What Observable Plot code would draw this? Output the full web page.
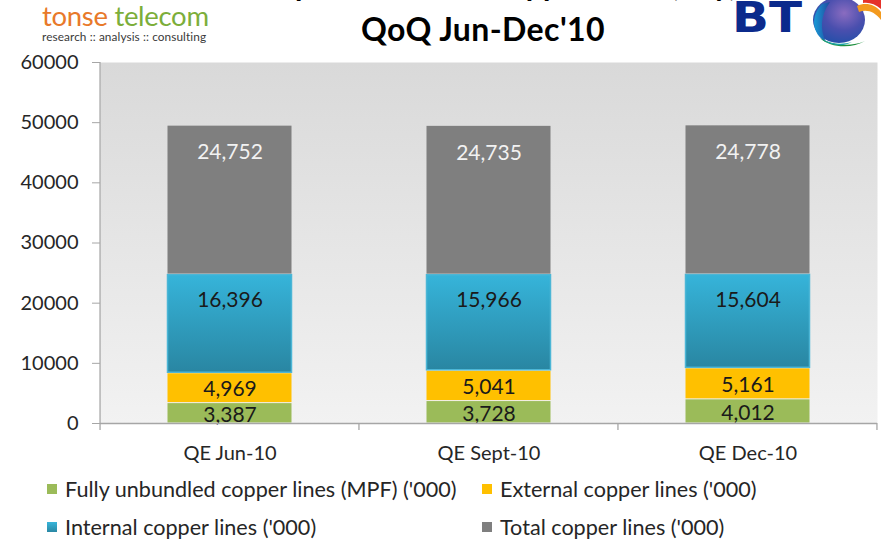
<!DOCTYPE html>
<html>
<head>
<meta charset="utf-8">
<script src="https://cdn.jsdelivr.net/npm/d3@7"></script>
<script src="https://cdn.jsdelivr.net/npm/@observablehq/plot@0.6"></script>
<style>
  html, body { margin: 0; padding: 0; background: #ffffff; }
  body { width: 881px; height: 539px; overflow: hidden; position: relative; font-family: Lato, "Open Sans", sans-serif; }
  #chart { position: absolute; left: 0; top: 45px; }
  .abs { position: absolute; white-space: nowrap; }
  #title1 { left: 0; width: 970px; text-align: center; top: -34px; font-size: 30px; font-weight: bold; color: #000; }
  #title2 { left: 0; width: 966px; text-align: center; top: 9px; font-size: 32px; letter-spacing: 0.4px; font-weight: bold; color: #000; }
  #tonse { left: 42px; top: 3px; font-size: 27.5px; line-height: 26px; letter-spacing: -0.3px; }
  #tonse .o { color: #e8792a; }
  #tonse .g { color: #7cae3a; }
  #tonseSub { left: 42px; top: 31px; font-size: 11.8px; line-height: 12px; color: #3a3a3a; letter-spacing: 0.1px; }
  #btLogo { left: 700px; top: 0; }
  .leg { position: absolute; font-size: 21.6px; color: #262626; white-space: nowrap; line-height: 20px; }
  .sw { position: absolute; width: 10px; height: 10px; }
</style>
</head>
<body>
<div id="title1" class="abs">Composition of BT Copper Lines (Qty)</div>
<div id="title2" class="abs">QoQ Jun-Dec'10</div>
<div id="tonse" class="abs"><span class="o">tonse</span> <span class="g">telecom</span></div>
<div id="tonseSub" class="abs">research :: analysis :: consulting</div>
<svg id="btLogo" class="abs" width="181" height="55" viewBox="0 0 181 55">
  <defs>
    <radialGradient id="globeG" cx="0.6" cy="0.35" r="0.75">
      <stop offset="0" stop-color="#8a6cc0"/>
      <stop offset="0.5" stop-color="#4a4fae"/>
      <stop offset="1" stop-color="#1c4fa8"/>
    </radialGradient>
    <linearGradient id="globeL" x1="0" y1="0" x2="1" y2="0">
      <stop offset="0" stop-color="#1a9ad6"/>
      <stop offset="1" stop-color="#1f4a9e"/>
    </linearGradient>
  </defs>
  <text x="32" y="32" font-family="DejaVu Sans, sans-serif" font-weight="bold" font-size="42" fill="#0b2a8c" textLength="70" lengthAdjust="spacingAndGlyphs">BT</text>
  <ellipse cx="139" cy="20" rx="26" ry="23" fill="url(#globeG)"/>
  <path d="M122,4 C110,16 112,34 126,42 C120,30 120,16 130,2 Z" fill="url(#globeL)"/>
  <path d="M120,38 C130,48 152,49 165,41 C154,46 138,46 126,41 Z" fill="#1e8f3e"/>
  <path d="M122,39 C130,44 142,45 152,42 C144,47 130,46 122,39 Z" fill="#1aa3a8"/>
  <path d="M157,6 C165,2 175,4 181,12 L181,20 C175,12 167,9 159,12 Z" fill="#f39a1e"/>
  <path d="M163,0 L181,0 L181,9 C175,4 169,2 163,3 Z" fill="#e5332a"/>
</svg>
<div id="chart"></div>
<div class="sw" style="left:47px;top:484px;background:#9bbb59"></div>
<div class="leg" style="left:65px;top:479px">Fully unbundled copper lines (MPF) ('000)</div>
<div class="sw" style="left:482px;top:484px;background:#ffc000"></div>
<div class="leg" style="left:500px;top:479px">External copper lines ('000)</div>
<div class="sw" style="left:47px;top:522px;background:linear-gradient(#38b5da,#2a88a4)"></div>
<div class="leg" style="left:65px;top:517px">Internal copper lines ('000)</div>
<div class="sw" style="left:482px;top:522px;background:#7f7f7f"></div>
<div class="leg" style="left:500px;top:517px">Total copper lines ('000)</div>
<script>
// ---- data ----
const quarters = ["QE Jun-10", "QE Sept-10", "QE Dec-10"];
const seriesNames = [
  "Fully unbundled copper lines (MPF) ('000)",
  "External copper lines ('000)",
  "Internal copper lines ('000)",
  "Total copper lines ('000)"
];
const mpfLines = [3387, 3728, 4012];
const externalLines = [4969, 5041, 5161];
const internalLines = [16396, 15966, 15604];
const totalLines = [24752, 24735, 24778];
const yTicks = [0, 10000, 20000, 30000, 40000, 50000, 60000];
const seriesColors = ["#9bbb59", "#ffc000", "url(#gradInternal)", "#7f7f7f"];

const seriesValues = [mpfLines, externalLines, internalLines, totalLines];
const rows = [];
quarters.forEach((q, i) => {
  seriesNames.forEach((s, j) => rows.push({quarter: q, series: s, value: seriesValues[j][i], idx: j}));
});
const fmt = d3.format(",");
const stackOpts = {x: "quarter", y: "value", z: "series", order: seriesNames};

const chart = Plot.plot({
  width: 881,
  height: 430,
  marginTop: 17,
  marginBottom: 52,
  marginLeft: 100,
  marginRight: 4,
  style: {fontFamily: "Lato, 'Open Sans', sans-serif", background: "transparent", overflow: "visible"},
  x: {domain: quarters, paddingInner: 0.517, paddingOuter: 0.2585, label: null},
  y: {domain: [0, 60000], label: null},
  color: {domain: seriesNames, range: seriesColors},
  marks: [
    Plot.frame({fill: "url(#gradBg)", stroke: null}),
    Plot.barY(rows, Plot.stackY({...stackOpts, fill: "series",
      stroke: d => d.idx === 2 ? "#4cb6d6" : "none", strokeWidth: 1.5, inset: 0.5})),
    // labels near the top of tall segments
    Plot.text(rows, Plot.stackY2({...stackOpts,
      text: d => d.idx === 2 ? fmt(d.value) : null, dy: 26, fontSize: 21, fill: "#1a1a1a"})),
    Plot.text(rows, Plot.stackY2({...stackOpts,
      text: d => d.idx === 3 ? fmt(d.value) : null, dy: 27, fontSize: 21, fill: "#f2f2f2"})),
    // labels centered in short segments
    Plot.text(rows, Plot.stackY({...stackOpts,
      text: d => d.idx < 2 ? fmt(d.value) : null, dy: 1.5, fontSize: 21, fill: "#1a1a1a"})),
    Plot.ruleY([0], {stroke: "#a6a6a6", strokeWidth: 1.3}),
    Plot.axisY({ticks: yTicks, tickFormat: d => String(d), tickSize: 8, tickPadding: 14,
      fontSize: 20, stroke: "#a6a6a6", fill: "#262626", label: null}),
    Plot.axisX({tickSize: 0, tickPadding: 22, fontSize: 20, fill: "#262626", label: null})
  ]
});

// gradients
const svg = d3.select(chart);
const defs = svg.insert("defs", ":first-child");
const bg = defs.append("linearGradient").attr("id", "gradBg").attr("x1", 0).attr("y1", 0).attr("x2", 0).attr("y2", 1);
bg.append("stop").attr("offset", 0).attr("stop-color", "#d9d9d9");
bg.append("stop").attr("offset", 1).attr("stop-color", "#f2f2f2");
const gi = defs.append("linearGradient").attr("id", "gradInternal").attr("x1", 0).attr("y1", 0).attr("x2", 0).attr("y2", 1);
gi.append("stop").attr("offset", 0).attr("stop-color", "#36b4da");
gi.append("stop").attr("offset", 1).attr("stop-color", "#2986a2");

// axis lines and category boundary ticks, positioned through the plot's scales
const xs = chart.scale("x"), ys = chart.scale("y");
const y0 = ys.apply(0), yTop = ys.apply(60000);
const left = xs.apply(quarters[0]) - xs.step * xs.paddingOuter;
const g = svg.append("g").attr("stroke", "#a6a6a6").attr("stroke-width", 1.3);
g.append("line").attr("x1", left).attr("x2", left).attr("y1", yTop).attr("y2", y0 + 7);
quarters.forEach(q => {
  const xr = xs.apply(q) + xs.bandwidth + xs.step * xs.paddingInner / 2;
  g.append("line").attr("x1", xr).attr("x2", xr).attr("y1", y0).attr("y2", y0 + 7);
});

document.getElementById("chart").appendChild(chart);
</script>
</body>
</html>
